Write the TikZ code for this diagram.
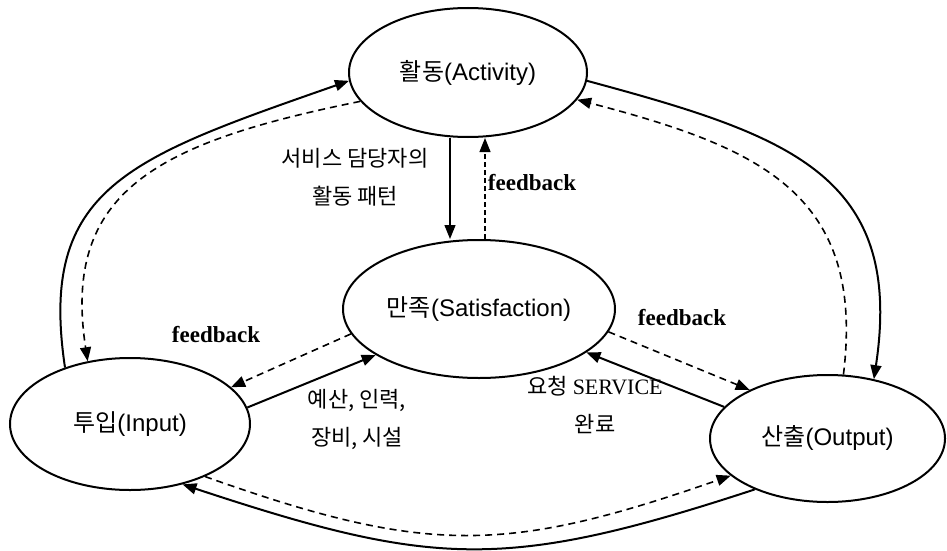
\documentclass[tikz,border=0pt]{standalone}
\usepackage{fontspec}
\setmainfont{Liberation Serif}
\setsansfont{Liberation Sans}
\newfontfamily\krfont{Noto Sans CJK KR}
\usetikzlibrary{arrows.meta, shapes.geometric}

\begin{document}
\begin{tikzpicture}[x=1pt, y=-1pt, >={Triangle[length=14pt,width=11pt]},
    state/.style={draw, ellipse, line width=2pt, inner sep=0pt, font=\sffamily\fontsize{24}{28}\selectfont},
    flow/.style={->, line width=2pt},
    fback/.style={->, line width=1.6pt, dash pattern=on 7pt off 5pt},
    fblabel/.style={font=\bfseries\fontsize{23}{27}\selectfont},
    krlabel/.style={align=center, font=\krfont\fontsize{22}{38}\selectfont}]
    \useasboundingbox (0,0) rectangle (947,551);

    % States
    \node[state, minimum width=238pt, minimum height=129pt] (act) at (468,72.5) {{\krfont 활동}(Activity)};
    \node[state, minimum width=272pt, minimum height=138pt] (sat) at (479,309) {{\krfont 만족}(Satisfaction)};
    \node[state, minimum width=240pt, minimum height=132pt] (inp) at (130,424) {{\krfont 투입}(Input)};
    \node[state, minimum width=235pt, minimum height=127pt] (out) at (827.5,438.5) {{\krfont 산출}(Output)};

    % Around the left
    \draw[flow] (inp.139) .. controls +(-27,-180) and +(-220,77) .. (act.184);
    \draw[fback] (act.195) .. controls +(-203,41) and +(-26,-170) .. (inp.124);

    % Around the right
    \draw[flow] (act.356) .. controls +(200,54) and +(31,-205) .. (out.52);
    \draw[fback] (out.76) .. controls +(22,-180) and +(184,48) .. (act.346);

    % Along the bottom
    \draw[flow] (out.215) .. controls +(-250,82) and +(251,83) .. (inp.311);
    \draw[fback] (inp.325) .. controls +(222,79) and +(-224,78) .. (out.201);

    % To and from satisfaction
    \draw[flow, line width=1.3pt] ([xshift=-18pt]act.south) -- ([xshift=-18pt]act.south |- sat.north);
    \draw[fback, line width=1.2pt, dash pattern=on 5pt off 3pt] ([xshift=6pt]sat.north) -- ([xshift=6pt]sat.north |- act.south);
    \draw[flow] (inp.8) -- (sat.204);
    \draw[fback] (sat.191) -- (inp.20);
    \draw[flow] (out.163) -- (sat.338);
    \draw[fback] (sat.350) -- (out.148);

    % Labels
    \node[krlabel] (role) at (355,177) {서비스 담당자의\\활동 패턴};
    \node[fblabel] (fbtop) at (532,183) {feedback};
    \node[fblabel] (fbleft) at (216,335) {feedback};
    \node[fblabel] (fbright) at (682,318) {feedback};
    \node[krlabel] (res) at (357,419) {예산, 인력,\\장비, 시설};
    \node[krlabel] (req) at (595,405) {요청 {\rmfamily SERVICE}\\완료};
\end{tikzpicture}
\end{document}
